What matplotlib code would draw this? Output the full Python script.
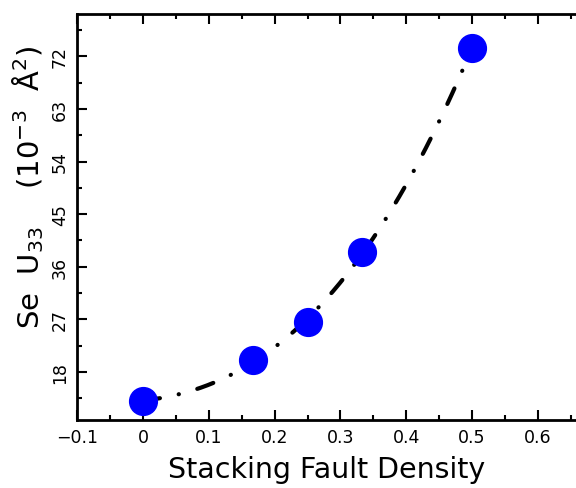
import numpy as np
import matplotlib.pyplot as plt
from matplotlib.ticker import MultipleLocator

# data
sf_density = [0.0, 1 / 6, 0.25, 1 / 3, 0.5]
se_u33 = [13.1, 20.0, 26.5, 38.6, 73.4]

x_ticks = [-0.1, 0.0, 0.1, 0.2, 0.3, 0.4, 0.5, 0.6]
x_ticklabels = ["\u22120.1", "0", "0.1", "0.2", "0.3", "0.4", "0.5", "0.6"]
y_ticks = [18, 27, 36, 45, 54, 63, 72]

fig = plt.figure(figsize=(5.76, 4.89), dpi=100)
ax = fig.add_axes([0.134, 0.139, 0.866, 0.830])

# smooth fit through the points (cubic polynomial fit of the data)
coef = np.polyfit(sf_density, se_u33, 3)
xf = np.linspace(min(sf_density), max(sf_density), 200)
ax.plot(xf, np.polyval(coef, xf), color="black", lw=3,
        dashes=[4.1, 4.6, 0.05, 4.6], dash_capstyle="round", zorder=2)
ax.plot(sf_density, se_u33, "o", color="#0000ff", ms=20, mec="#0000ff", zorder=3)

ax.set_xlim(-0.1, 0.658)
ax.set_ylim(9.8, 79.2)
ax.set_xticks(x_ticks)
ax.set_xticklabels(x_ticklabels)
ax.set_yticks(y_ticks)
ax.xaxis.set_minor_locator(MultipleLocator(0.05))
ax.yaxis.set_minor_locator(MultipleLocator(4.5))
ax.tick_params(which="both", direction="in", top=True, right=False, width=1.5)
ax.tick_params(which="major", length=7, labelsize=12.5, pad=6)
ax.tick_params(which="minor", length=3.5)
for lbl in ax.get_yticklabels():
    lbl.set_rotation(90)
    lbl.set_va("center")
for s in ["left", "bottom", "top"]:
    ax.spines[s].set_linewidth(2)
ax.spines["right"].set_visible(False)

ax.set_xlabel("Stacking Fault Density", fontsize=20.5, labelpad=6)
ax.set_ylabel(r"Se  U$_{33}$    (10$^{-3}$  $\mathrm{\AA}^2$)", fontsize=21)
ax.yaxis.set_label_coords(-0.062, 0.575)

fig.savefig("out.png", dpi=100)
